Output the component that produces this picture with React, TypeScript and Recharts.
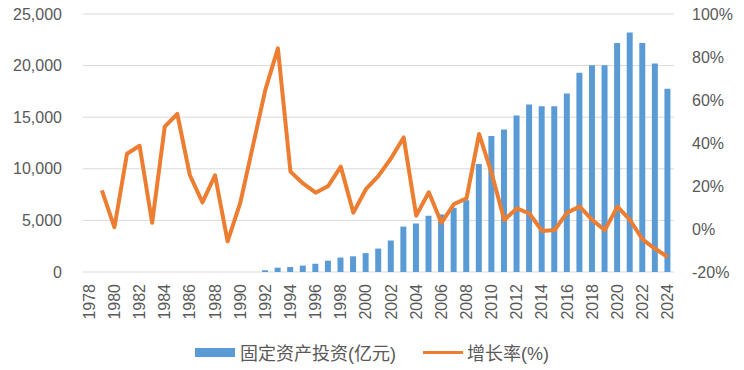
import React from "react"
import {
  ComposedChart,
  Bar,
  Line,
  XAxis,
  YAxis,
  CartesianGrid,
  Legend,
} from "recharts"

const years = [
  1978, 1979, 1980, 1981, 1982, 1983, 1984, 1985, 1986, 1987, 1988, 1989,
  1990, 1991, 1992, 1993, 1994, 1995, 1996, 1997, 1998, 1999, 2000, 2001,
  2002, 2003, 2004, 2005, 2006, 2007, 2008, 2009, 2010, 2011, 2012, 2013,
  2014, 2015, 2016, 2017, 2018, 2019, 2020, 2021, 2022, 2023, 2024,
]

// 固定资产投资(亿元), no bars shown before 1992
const investment = [
  null, null, null, null, null, null, null, null, null, null, null, null,
  null, null, 170, 420, 480, 620, 800, 1100, 1400, 1520, 1830, 2270,
  3050, 4400, 4700, 5450, 5580, 6220, 6960, 10460, 13180, 13810, 15160, 16220,
  16060, 16060, 17300, 19300, 20040, 20040, 22180, 23200, 22180, 20200, 17750,
]

// 增长率(%)
const growth = [
  null, 18, 0.8, 35, 38.7, 2.9, 47.6, 53.5, 25, 12.4, 25, -5.7,
  12, 38.3, 64.7, 84, 26.7, 21.2, 16.9, 20, 29, 7.6, 18.5, 24.7,
  32.9, 42.6, 6.2, 17.1, 2.9, 11.6, 14.3, 44.2, 25.9, 4.2, 9.6, 7.2,
  -0.9, -0.5, 7.6, 10.4, 4.2, -0.5, 10.4, 4.2, -4.8, -9.2, -13,
]

const leftTicks = [0, 5000, 10000, 15000, 20000, 25000]
const rightTicks = [-20, 0, 20, 40, 60, 80, 100]

const data = years.map((y, i) => ({
  year: String(y),
  investment: investment[i],
  growth: growth[i],
}))

const textColor = "#595959"
const font = '"Liberation Sans", "Noto Sans CJK SC", sans-serif'

const YearTick = (props: any) => {
  const { x, y, payload } = props
  return (
    <text
      x={x}
      y={y}
      transform={`rotate(-90, ${x}, ${y})`}
      textAnchor="end"
      dominantBaseline="central"
      fill={textColor}
      fontSize={16}
      fontFamily={font}
    >
      {payload.value}
    </text>
  )
}

const renderLegend = () => (
  <div
    style={{
      height: 36,
      display: "flex",
      justifyContent: "center",
      alignItems: "center",
      fontFamily: font,
      fontSize: 18,
      color: textColor,
    }}
  >
    <span style={{ display: "inline-block", width: 40, height: 9, background: "#5B9BD5", marginRight: 5 }} />
    <span>固定资产投资(亿元)</span>
    <span style={{ display: "inline-block", width: 40, height: 3, background: "#ED7D31", marginLeft: 27, marginRight: 4 }} />
    <span>增长率(%)</span>
  </div>
)

export default function App() {
  return (
    <div style={{ position: "absolute", left: 0, top: 0, width: 744, height: 370, background: "#fff" }}>
      <ComposedChart
        width={744}
        height={370}
        data={data}
        margin={{ top: 14, right: 10, left: 0, bottom: 0 }}
        style={{ fontFamily: font }}
      >
        <CartesianGrid yAxisId="left" vertical={false} stroke="#D9D9D9" strokeWidth={1} />
        <XAxis
          dataKey="year"
          interval={1}
          height={62}
          axisLine={false}
          tickLine={false}
          tickSize={0}
          tickMargin={12}
          tick={<YearTick />}
        />
        <YAxis
          yAxisId="left"
          width={83}
          domain={[0, 25000]}
          ticks={leftTicks}
          axisLine={false}
          tickLine={false}
          tickSize={0}
          tickMargin={21}
          tick={{ fill: textColor, fontSize: 16 }}
          tickFormatter={(v: number) => v.toLocaleString("en-US")}
        />
        <YAxis
          yAxisId="right"
          orientation="right"
          width={60}
          domain={[-20, 100]}
          ticks={rightTicks}
          axisLine={false}
          tickLine={false}
          tickSize={0}
          tickMargin={18}
          tick={{ fill: textColor, fontSize: 16 }}
          tickFormatter={(v: number) => `${v}%`}
        />
        <Bar
          yAxisId="left"
          dataKey="investment"
          name="固定资产投资(亿元)"
          fill="#5B9BD5"
          barSize={6}
          isAnimationActive={false}
        />
        <Line
          yAxisId="right"
          dataKey="growth"
          name="增长率(%)"
          type="linear"
          stroke="#ED7D31"
          strokeWidth={4}
          strokeLinejoin="round"
          dot={false}
          activeDot={false}
          isAnimationActive={false}
        />
        <Legend
          verticalAlign="bottom"
          content={renderLegend}
          wrapperStyle={{ left: 0, width: 744 }}
        />
      </ComposedChart>
    </div>
  )
}
